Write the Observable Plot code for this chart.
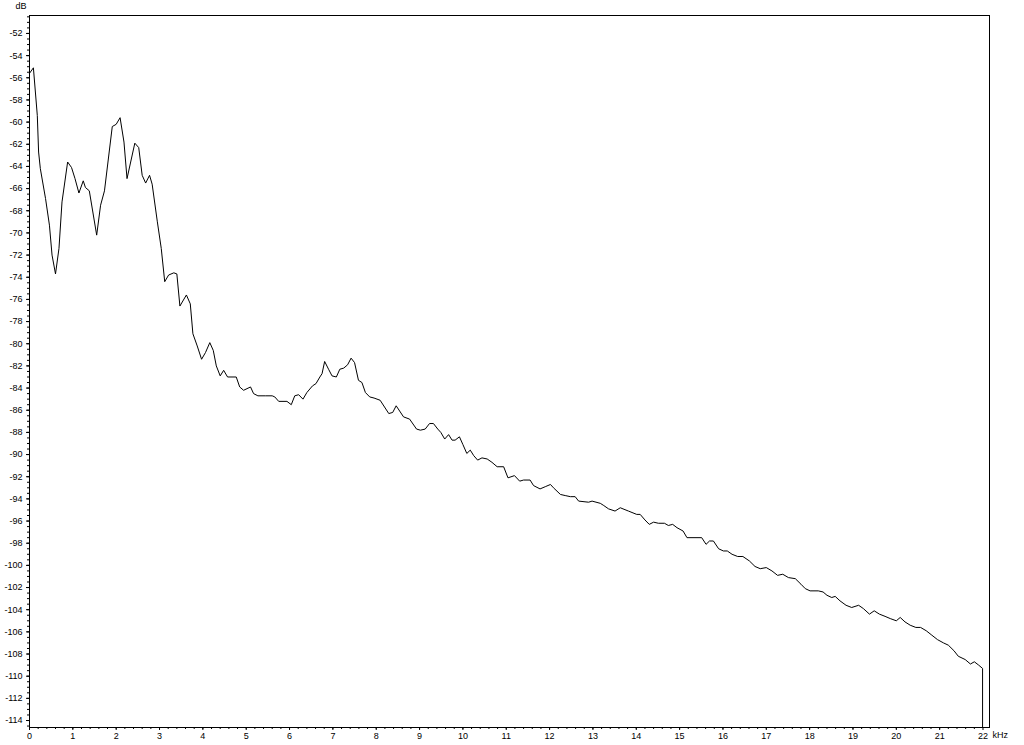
<!DOCTYPE html>
<html><head><meta charset="utf-8">
<script src="https://cdn.jsdelivr.net/npm/d3@7"></script>
<script src="https://cdn.jsdelivr.net/npm/@observablehq/plot@0.6"></script>
<style>body{margin:0;background:#fff;overflow:hidden}</style>
</head><body><div id="chart"></div>
<script>
const freqKHz = [0,0.09,0.18,0.21,0.25,0.37,0.46,0.52,0.60,0.68,0.75,0.88,0.97,1.05,1.14,1.24,1.29,1.38,1.55,1.64,1.73,1.91,2.00,2.09,2.18,2.25,2.43,2.52,2.60,2.68,2.77,2.83,2.95,3.04,3.12,3.21,3.33,3.40,3.47,3.62,3.71,3.77,3.87,3.97,4.06,4.16,4.24,4.31,4.40,4.48,4.57,4.77,4.85,4.94,5.10,5.17,5.27,5.44,5.60,5.66,5.75,5.94,6.04,6.12,6.21,6.31,6.40,6.53,6.61,6.70,6.75,6.81,6.90,6.98,7.08,7.16,7.25,7.34,7.42,7.50,7.59,7.67,7.75,7.85,7.95,8.09,8.29,8.38,8.46,8.63,8.77,8.93,9.02,9.13,9.23,9.32,9.42,9.49,9.58,9.67,9.75,9.82,9.92,10.00,10.09,10.17,10.25,10.34,10.44,10.56,10.67,10.79,10.94,11.04,11.19,11.31,11.40,11.55,11.63,11.78,11.90,12.02,12.09,12.25,12.36,12.48,12.59,12.67,12.90,12.98,13.17,13.25,13.36,13.51,13.63,13.82,14.01,14.09,14.20,14.30,14.40,14.51,14.65,14.74,14.84,14.94,15.08,15.17,15.51,15.61,15.69,15.78,15.90,16.01,16.10,16.21,16.34,16.46,16.61,16.74,16.86,17.00,17.13,17.26,17.38,17.51,17.67,17.80,17.90,18.01,18.20,18.31,18.40,18.51,18.59,18.70,18.84,18.97,19.13,19.24,19.38,19.49,19.61,19.74,19.86,20.00,20.09,20.20,20.32,20.45,20.56,20.69,20.82,20.95,21.09,21.20,21.33,21.43,21.59,21.71,21.80,21.90,21.99,21.99];
const levelDB = [-55.6,-55.1,-59.4,-62.7,-64.2,-66.9,-69.3,-72.0,-73.7,-71.4,-67.2,-63.6,-64.1,-65.1,-66.4,-65.3,-65.9,-66.2,-70.2,-67.5,-66.2,-60.4,-60.2,-59.6,-61.8,-65.1,-61.9,-62.3,-64.8,-65.5,-64.8,-65.6,-69.0,-71.4,-74.4,-73.8,-73.6,-73.7,-76.6,-75.6,-76.4,-79.1,-80.2,-81.4,-80.8,-79.9,-80.6,-82.0,-82.9,-82.4,-83.0,-83.0,-83.9,-84.2,-83.9,-84.5,-84.7,-84.7,-84.7,-84.8,-85.2,-85.2,-85.5,-84.7,-84.6,-85.0,-84.4,-83.8,-83.6,-83.0,-82.7,-81.6,-82.3,-82.9,-83.0,-82.3,-82.2,-81.9,-81.3,-81.7,-83.3,-83.5,-84.4,-84.8,-84.9,-85.1,-86.3,-86.2,-85.6,-86.6,-86.8,-87.7,-87.8,-87.7,-87.2,-87.2,-87.7,-88.0,-88.6,-88.2,-88.7,-88.7,-88.4,-89.1,-89.9,-89.6,-90.1,-90.5,-90.3,-90.4,-90.7,-91.1,-91.1,-92.1,-91.9,-92.4,-92.3,-92.3,-92.8,-93.1,-92.9,-92.7,-93.0,-93.6,-93.7,-93.8,-93.8,-94.2,-94.3,-94.2,-94.4,-94.6,-94.9,-95.1,-94.8,-95.1,-95.4,-95.4,-95.9,-96.3,-96.1,-96.2,-96.2,-96.4,-96.3,-96.6,-96.9,-97.5,-97.5,-98.1,-97.8,-97.8,-98.5,-98.7,-98.7,-99.0,-99.2,-99.2,-99.6,-100.1,-100.3,-100.2,-100.5,-100.9,-100.8,-101.1,-101.2,-101.7,-102.1,-102.3,-102.3,-102.4,-102.7,-102.9,-102.8,-103.2,-103.6,-103.8,-103.6,-103.9,-104.4,-104.1,-104.4,-104.6,-104.8,-105.0,-104.7,-105.1,-105.4,-105.6,-105.6,-105.9,-106.3,-106.7,-107.0,-107.2,-107.7,-108.2,-108.5,-108.9,-108.7,-109.0,-109.3,-114.63];
const xMajorTicks = d3.range(0, 23, 1);
const xMinorTicks = d3.range(0, 110, 1).map(i => i / 5);
const yMajorTicks = d3.range(-114, -51, 2);
const yMinorTicks = d3.range(-229, -100, 1).map(i => i / 2);
const xUnit = "kHz";
const yUnit = "dB";

const data = freqKHz.map((f, i) => ({f, db: levelDB[i]}));

const chart = Plot.plot({
  width: 1024, height: 745,
  marginLeft: 29, marginRight: 35, marginTop: 15, marginBottom: 18,
  x: {domain: [0, 22.15]},
  y: {domain: [-114.63, -50.38]},
  style: {fontFamily: "'Liberation Sans Narrow','Liberation Sans',Arial,sans-serif", fontSize: "9px", color: "#000", background: "#fff"},
  marks: [
    Plot.axisY({ticks: yMinorTicks, tickSize: 2, text: null, label: null}),
    Plot.axisY({ticks: yMajorTicks, tickSize: 3, tickPadding: 4, label: null, tickFormat: d => String(d)}),
    Plot.axisX({ticks: xMinorTicks, tickSize: 2, text: null, label: null}),
    Plot.axisX({ticks: xMajorTicks, tickSize: 3, tickPadding: 2, label: null, tickFormat: d => String(d)}),
    Plot.frame({stroke: "#000"}),
    Plot.lineY(data, {x: "f", y: "db", stroke: "#000", strokeWidth: 1}),
    Plot.text([yUnit], {frameAnchor: "top-left", text: d => d, dx: -14, dy: -13, textAnchor: "start", lineAnchor: "top", fontSize: 9}),
    Plot.text([xUnit], {frameAnchor: "bottom-right", text: d => d, dx: 3, dy: 4, textAnchor: "start", lineAnchor: "top", fontSize: 9})
  ]
});
document.getElementById("chart").appendChild(chart);
</script>
</body></html>
